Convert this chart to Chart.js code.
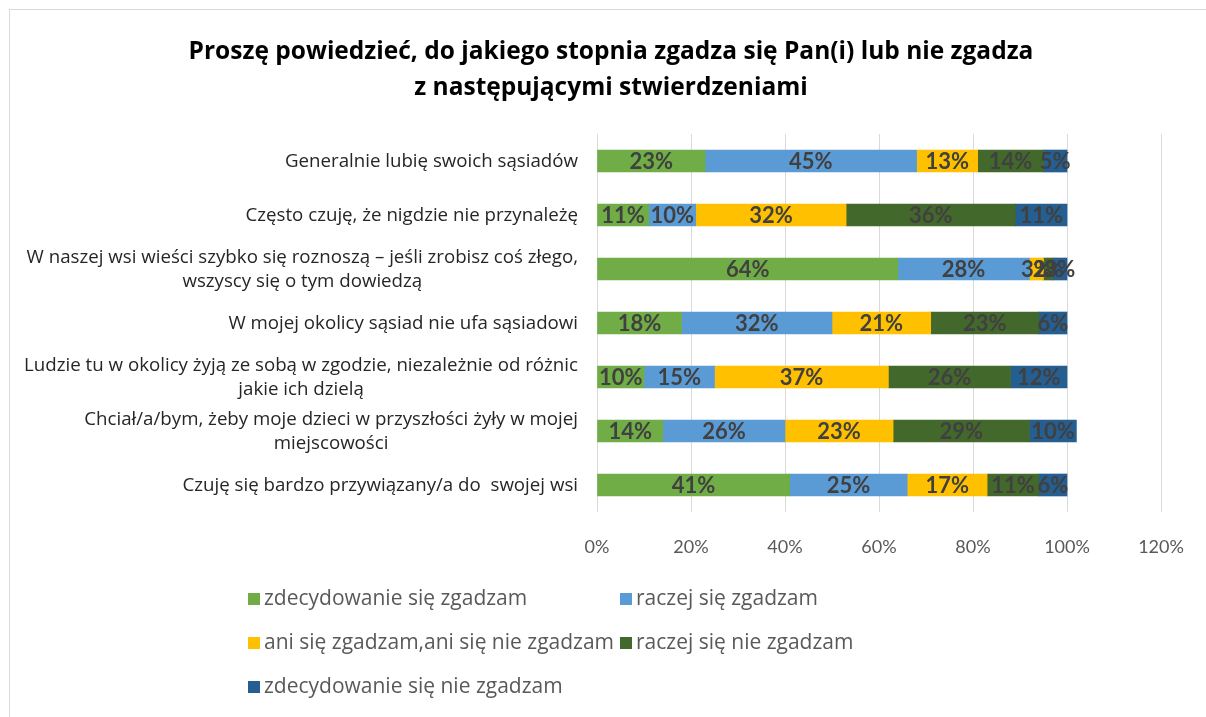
<!DOCTYPE html>
<html>
<head>
<meta charset="utf-8">
<script src="https://cdn.jsdelivr.net/npm/chart.js@4.4.1/dist/chart.umd.min.js"></script>
<style>
  html, body { margin: 0; padding: 0; background: #ffffff; overflow: hidden; width: 1206px; height: 717px; }
  #frame { position: absolute; left: 9px; top: 9px; width: 1202px; height: 720px; border: 1px solid #d9d9d9; background: #fff; }
  #chart { display: block; }
</style>
</head>
<body>
<div id="frame"><canvas id="chart" width="1202" height="720"></canvas></div>
<script>
const titleLines = ["Proszę powiedzieć, do jakiego stopnia zgadza się Pan(i) lub nie zgadza", "z następującymi stwierdzeniami"];
const categories = [
  ["Generalnie lubię swoich sąsiadów"],
  ["Często czuję, że nigdzie nie przynależę"],
  ["W naszej wsi wieści szybko się roznoszą – jeśli zrobisz coś złego,", "wszyscy się o tym dowiedzą"],
  ["W mojej okolicy sąsiad nie ufa sąsiadowi"],
  ["Ludzie tu w okolicy żyją ze sobą w zgodzie, niezależnie od różnic", "jakie ich dzielą"],
  ["Chciał/a/bym, żeby moje dzieci w przyszłości żyły w mojej", "miejscowości"],
  ["Czuję się bardzo przywiązany/a do  swojej wsi"]
];
const seriesNames = ["zdecydowanie się zgadzam", "raczej się zgadzam", "ani się zgadzam,ani się nie zgadzam", "raczej się nie zgadzam", "zdecydowanie się nie zgadzam"];
const strongAgree    = [23, 11, 64, 18, 10, 14, 41];
const agree          = [45, 10, 28, 32, 15, 26, 25];
const neutral        = [13, 32,  3, 21, 37, 23, 17];
const disagree       = [14, 36,  2, 23, 26, 29, 11];
const strongDisagree = [ 5, 11,  3,  6, 12, 10,  6];
const xTicks = [0, 20, 40, 60, 80, 100, 120];

const colors = ["#70AD47", "#5B9BD5", "#FFC000", "#43682B", "#255E91"];
const seriesData = [strongAgree, agree, neutral, disagree, strongDisagree];

const FONT = "'Open Sans', sans-serif";
const NUMFONT = "Lato, 'Open Sans', sans-serif";
const SIDE_PAD = 51;

const labelPlugin = {
  id: 'segLabels',
  afterDatasetsDraw(chart) {
    const ctx = chart.ctx;
    ctx.save();
    ctx.font = "bold 22px " + NUMFONT;
    ctx.fillStyle = "#404040";
    ctx.textAlign = "center";
    ctx.textBaseline = "middle";
    chart.data.datasets.forEach((ds, di) => {
      const meta = chart.getDatasetMeta(di);
      meta.data.forEach((el, i) => {
        const v = ds.data[i];
        if (!v) return;
        const cx = (el.x + el.base) / 2;
        ctx.fillText(v + "%", cx, el.y + 1);
      });
    });
    ctx.restore();
  }
};

const catLabelPlugin = {
  id: 'catLabels',
  afterDraw(chart) {
    const ctx = chart.ctx;
    const ys = chart.scales.y;
    ctx.save();
    ctx.font = "18.7px " + FONT;
    ctx.fillStyle = "#262626";
    ctx.textAlign = "center";
    ctx.textBaseline = "middle";
    const rightEdge = chart.chartArea.left - 19;
    const lh = 24;
    categories.forEach((lines, i) => {
      const cy = ys.getPixelForValue(i);
      const w = Math.max(...lines.map(l => ctx.measureText(l).width));
      const cx = rightEdge - w / 2;
      const y0 = cy - (lines.length - 1) * lh / 2 + 1;
      lines.forEach((l, k) => ctx.fillText(l, cx, y0 + k * lh));
    });
    ctx.restore();
  }
};

const legendPlugin = {
  id: 'customLegend',
  afterDraw(chart) {
    const ctx = chart.ctx;
    ctx.save();
    ctx.font = "21px " + FONT;
    ctx.textBaseline = "middle";
    ctx.textAlign = "left";
    const cols = [238, 610];
    const rows = [589, 633, 677];
    seriesNames.forEach((name, i) => {
      const x = cols[i % 2];
      const y = rows[Math.floor(i / 2)];
      ctx.fillStyle = colors[i];
      ctx.fillRect(x, y - 6, 12, 12);
      ctx.fillStyle = "#595959";
      ctx.fillText(name, x + 16, y);
    });
    ctx.restore();
  }
};

new Chart(document.getElementById('chart'), {
  type: 'bar',
  data: {
    labels: categories,
    datasets: seriesNames.map((n, i) => ({
      label: n,
      data: seriesData[i],
      backgroundColor: colors[i],
      borderWidth: 0,
      barThickness: 22
    }))
  },
  options: {
    indexAxis: 'y',
    responsive: false,
    animation: false,
    devicePixelRatio: 1,
    layout: { padding: { left: SIDE_PAD, right: SIDE_PAD, top: 0, bottom: 158 } },
    plugins: {
      legend: { display: false },
      tooltip: { enabled: false },
      title: {
        display: true,
        text: titleLines,
        color: "#000000",
        font: { family: FONT, size: 24.5, weight: 'bold', lineHeight: '36px' },
        padding: { top: 24, bottom: 28 }
      }
    },
    scales: {
      x: {
        stacked: true,
        min: 0,
        max: 120,
        afterBuildTicks(scale) { scale.ticks = xTicks.map(v => ({ value: v })); },
        afterFit(scale) { scale.height = 60; },
        grid: { color: "#d9d9d9", lineWidth: 1, drawTicks: false },
        border: { display: false },
        ticks: {
          padding: 24,
          color: "#595959",
          font: { family: NUMFONT, size: 18 },
          callback: v => v + "%"
        }
      },
      y: {
        stacked: true,
        afterFit(scale) { scale.width = 587 - SIDE_PAD; },
        grid: { display: false, drawTicks: false },
        border: { display: false },
        ticks: { display: false }
      }
    }
  },
  plugins: [labelPlugin, catLabelPlugin, legendPlugin]
});
</script>
</body>
</html>
